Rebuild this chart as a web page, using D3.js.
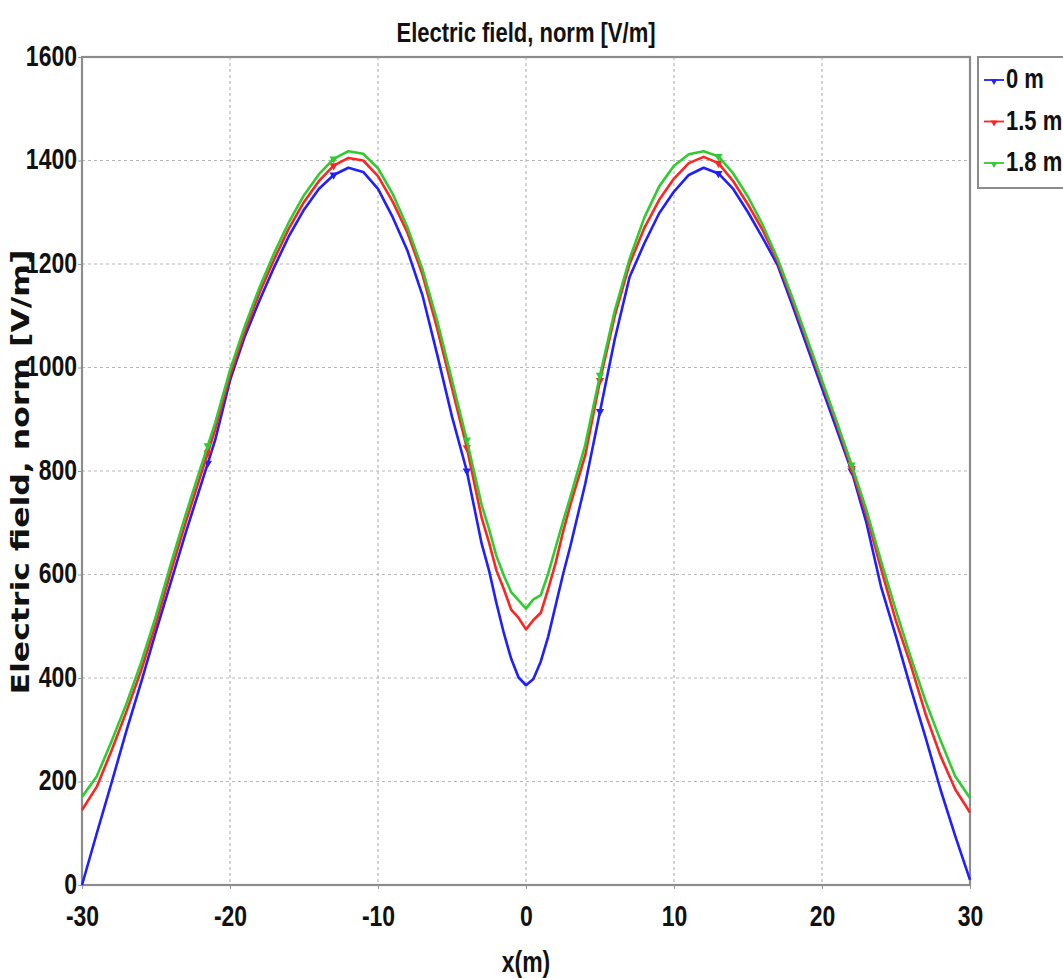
<!DOCTYPE html>
<html><head><meta charset="utf-8">
<script src="https://cdn.jsdelivr.net/npm/d3@7"></script>
<style>
body{margin:0;background:#fff;}
svg{display:block;}
.cond{font-family:"Liberation Sans Narrow","Arial Narrow","Liberation Sans",sans-serif;font-weight:bold;font-stretch:condensed;}
</style></head>
<body>
<svg id="chart" width="1063" height="978"></svg>
<script>
const title = "Electric field, norm [V/m]";
const xLabel = "x(m)";
const yLabel = "Electric field, norm [V/m]";
const seriesNames = ["0 m", "1.5 m", "1.8 m"];
const seriesColors = ["#1f1fff", "#ff2424", "#2fcc2f"];
const xTicks = [-30, -20, -10, 0, 10, 20, 30];
const yTicks = [0, 200, 400, 600, 800, 1000, 1200, 1400, 1600];

const xs = [-30,-29,-28,-27,-26,-25,-24,-23,-22,-21,-20,-19,-18,-17,-16,-15,-14,-13,-12,-11,-10,-9,-8,-7,-6,-5,-4,-3,
  -2.5,-2,-1.5,-1,-0.5,0,0.5,1,1.5,2,2.5,
  3,4,5,6,7,8,9,10,11,12,13,14,15,16,17,18,19,20,21,22,23,24,25,26,27,28,29,30];

const e0m = [0,100,198,298,392,490,585,680,770,860,975,1060,1130,1195,1255,1305,1345,1372,1386,1378,1345,1290,1225,1140,1025,905,800,660,
  608,545,487,437,401,386,398,432,480,540,600,
  655,775,915,1055,1175,1240,1298,1340,1372,1386,1375,1345,1300,1250,1198,1120,1040,960,880,800,700,575,480,380,285,185,95,10];

const e15m = [145,190,260,335,415,505,605,700,790,880,985,1070,1145,1210,1270,1320,1360,1390,1405,1400,1370,1320,1260,1180,1075,960,845,710,
  662,608,572,532,516,494,512,526,572,622,682,
  735,830,975,1100,1200,1270,1324,1365,1395,1407,1395,1360,1315,1265,1205,1130,1050,970,890,805,715,610,510,425,330,250,185,140];

const e18m = [170,210,278,350,430,520,620,715,805,893,995,1080,1155,1222,1282,1333,1373,1403,1418,1413,1385,1335,1270,1190,1090,975,860,735,
  688,636,598,566,550,534,552,560,602,652,702,
  750,850,985,1110,1210,1290,1350,1390,1412,1418,1408,1375,1330,1275,1210,1135,1055,975,895,812,725,625,530,440,355,280,210,168];

const markerXs = [-21.5, -13, -4, 5, 13, 22];

const svg = d3.select("#chart");
const L = 82, R = 970, T = 57, B = 885;
const x = d3.scaleLinear().domain([-30, 30]).range([L, R]);
const y = d3.scaleLinear().domain([0, 1600]).range([B, T]);

// grid
const g = svg.append("g");
g.selectAll(".vg").data(xTicks.slice(1, -1)).join("line")
  .attr("x1", d => x(d)).attr("x2", d => x(d)).attr("y1", T).attr("y2", B)
  .attr("stroke", "#b8b8b8").attr("stroke-width", 1.2).attr("stroke-dasharray", "3,3");
g.selectAll(".hg").data(yTicks.slice(1, -1)).join("line")
  .attr("x1", L).attr("x2", R).attr("y1", d => y(d)).attr("y2", d => y(d))
  .attr("stroke", "#b8b8b8").attr("stroke-width", 1.2).attr("stroke-dasharray", "3,3");

// axes with library
const fmt = d => String(d);
const xAxis = d3.axisBottom(x).tickValues(xTicks).tickSize(4).tickFormat(fmt);
const yAxis = d3.axisLeft(y).tickValues(yTicks).tickSize(4).tickFormat(fmt);
const gx = svg.append("g").attr("transform", `translate(0,${B})`).call(xAxis);
const gy = svg.append("g").attr("transform", `translate(${L},0)`).call(yAxis);
[gx, gy].forEach(a => {
  a.select(".domain").remove();
  a.selectAll(".tick line").attr("stroke", "#999");
  a.selectAll(".tick text").attr("class", "cond").attr("fill", "#111").attr("font-size", 23);
});
gx.selectAll(".tick text").attr("dy", 0).attr("y", 0)
  .attr("transform", "translate(0,41) scale(1,1.25)");
gy.selectAll(".tick text").attr("x", 0).attr("dy", 0)
  .attr("transform", "translate(-5,8) scale(1,1.25)");

// frame
svg.append("rect").attr("x", L).attr("y", T).attr("width", R - L).attr("height", B - T)
  .attr("fill", "none").attr("stroke", "#8c8c8c").attr("stroke-width", 2.2);

// series
const allSeries = [e0m, e15m, e18m];
const line = d3.line().x((d, i) => x(xs[i])).y(d => y(d));
allSeries.forEach((vals, k) => {
  svg.append("path").datum(vals).attr("d", line)
    .attr("fill", "none").attr("stroke", seriesColors[k]).attr("stroke-width", 2.6)
    .attr("stroke-linejoin", "round");
  const interp = d3.scaleLinear().domain(xs).range(vals);
  svg.selectAll(null).data(markerXs).join("path")
    .attr("d", d3.symbol(d3.symbolTriangle, 30))
    .attr("transform", d => `translate(${x(d)},${y(interp(d))}) rotate(180)`)
    .attr("fill", seriesColors[k]);
});

// title
svg.append("text").attr("class", "cond").attr("font-size", 22).attr("fill", "#111")
  .attr("text-anchor", "middle").attr("transform", "translate(526,42) scale(1,1.25)").text(title);

// x label
svg.append("text").attr("class", "cond").attr("font-size", 23).attr("fill", "#111")
  .attr("text-anchor", "middle").attr("transform", "translate(526,972) scale(1,1.25)").text(xLabel);

// y label
svg.append("text")
  .attr("font-family", "DejaVu Sans, Verdana, sans-serif").attr("font-weight", "bold")
  .attr("font-size", 24).attr("fill", "#111").attr("text-anchor", "middle")
  .attr("transform", "translate(29,472) rotate(-90)")
  .attr("textLength", 445).attr("lengthAdjust", "spacingAndGlyphs").text(yLabel);

// legend
const lg = svg.append("g");
lg.append("rect").attr("x", 978).attr("y", 57).attr("width", 100).attr("height", 131)
  .attr("fill", "#fff").attr("stroke", "#8c8c8c").attr("stroke-width", 2);
seriesNames.forEach((name, k) => {
  const yy = 80 + k * 41.5;
  lg.append("line").attr("x1", 984).attr("x2", 1004).attr("y1", yy).attr("y2", yy)
    .attr("stroke", seriesColors[k]).attr("stroke-width", 1.8);
  lg.append("path").attr("d", d3.symbol(d3.symbolTriangle, 20))
    .attr("transform", `translate(994,${yy + 1}) rotate(180)`).attr("fill", seriesColors[k]);
  lg.append("text").attr("class", "cond").attr("font-size", 22).attr("fill", "#111")
    .attr("transform", `translate(1006,${yy + 8}) scale(1,1.25)`).text(name);
});
</script>
</body></html>
